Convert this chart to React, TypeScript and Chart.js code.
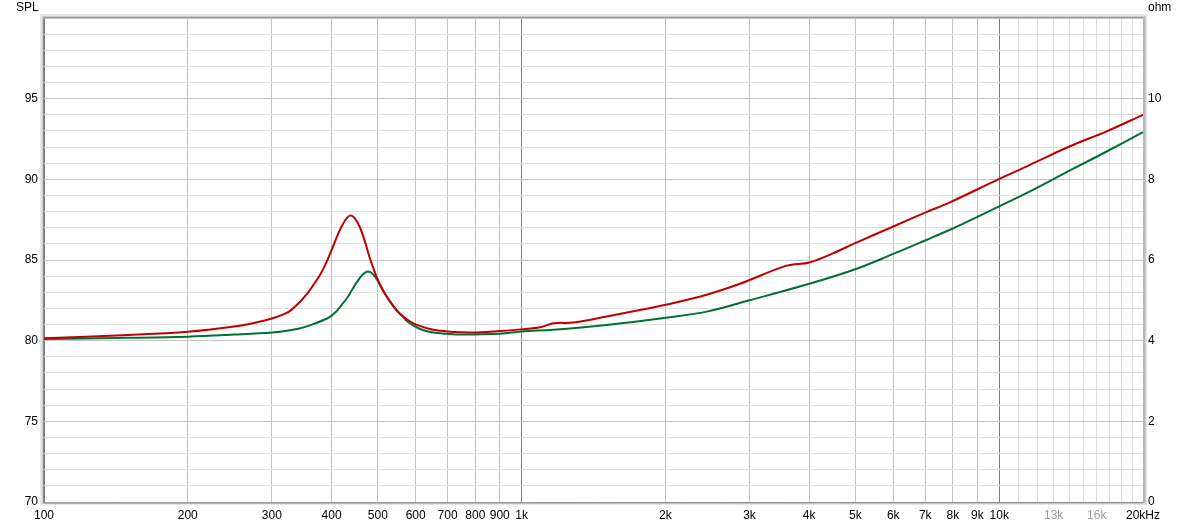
import { useEffect, useRef } from "react";
import { Chart, registerables } from "chart.js";
Chart.register(...registerables);

// Impedance data (frequency in Hz, impedance in ohm)
const redFreq = [100, 150, 200, 250, 275, 300, 320, 330, 344, 357, 366, 378, 388, 397, 408, 417, 427, 437, 447, 459, 470, 481, 490, 497, 510, 522, 540, 557, 580, 603, 653, 700, 743, 791, 901, 1000, 1093, 1165, 1283, 1507, 1769, 2003, 2441, 2866, 3589, 4003, 4495, 4995, 6000, 7015, 7886, 10000, 11600, 14060, 16790, 20000];
const redOhm = [4.06, 4.14, 4.22, 4.35, 4.44, 4.55, 4.67, 4.77, 4.97, 5.19, 5.37, 5.62, 5.88, 6.15, 6.5, 6.76, 6.98, 7.1, 7.04, 6.8, 6.45, 6.05, 5.78, 5.58, 5.3, 5.09, 4.84, 4.66, 4.5, 4.39, 4.27, 4.23, 4.21, 4.2, 4.24, 4.28, 4.33, 4.43, 4.45, 4.6, 4.76, 4.89, 5.14, 5.41, 5.86, 5.94, 6.17, 6.42, 6.83, 7.18, 7.43, 8.01, 8.36, 8.82, 9.19, 9.6];

const greenFreq = [100, 150, 200, 250, 300, 320, 344, 366, 383, 397, 408, 417, 430, 441, 452, 463, 474, 482, 490, 500, 512, 530, 545, 557, 580, 613, 653, 697, 743, 901, 1000, 1165, 1507, 2003, 2441, 2997, 4003, 4995, 6000, 7015, 7886, 10000, 11600, 14060, 16790, 20000];
const greenOhm = [4.04, 4.07, 4.1, 4.15, 4.2, 4.24, 4.31, 4.41, 4.5, 4.59, 4.71, 4.84, 5.04, 5.25, 5.45, 5.62, 5.71, 5.7, 5.63, 5.48, 5.25, 4.98, 4.78, 4.66, 4.45, 4.29, 4.2, 4.17, 4.15, 4.17, 4.23, 4.27, 4.39, 4.57, 4.72, 5.0, 5.41, 5.77, 6.15, 6.49, 6.75, 7.33, 7.7, 8.22, 8.69, 9.17];

const xTicks = [100, 200, 300, 400, 500, 600, 700, 800, 900, 1000, 2000, 3000, 4000, 5000, 6000, 7000, 8000, 9000, 10000, 11000, 12000, 13000, 14000, 15000, 16000, 17000, 18000, 19000, 20000];
const xLabels: Record<number, string> = {
  100: "100", 200: "200", 300: "300", 400: "400", 500: "500", 600: "600", 700: "700", 800: "800", 900: "900",
  1000: "1k", 2000: "2k", 3000: "3k", 4000: "4k", 5000: "5k", 6000: "6k", 7000: "7k", 8000: "8k", 9000: "9k",
  10000: "10k", 13000: "13k", 16000: "16k", 20000: "20kHz",
};
const greyLabels = [13000, 16000];
const majorX = [100, 1000, 10000];

const splMin = 70, splMax = 100, splStep = 1, splLabelStep = 5;
const ohmMin = 0, ohmMax = 12, ohmStep = 2;

const FONT = { family: "'Liberation Sans', Arial, sans-serif", size: 12 };

const framePlugin = {
  id: "frame",
  beforeDraw(chart: any) {
    const { ctx, chartArea: a } = chart;
    ctx.save();
    ctx.fillStyle = "#ffffff";
    ctx.fillRect(0, 0, chart.width, chart.height);
    ctx.fillStyle = "#e6e6e6";
    ctx.fillRect(a.left - 4, a.top - 4, a.right - a.left + 8, a.bottom - a.top + 7);
    ctx.fillStyle = "#cdcdcd";
    ctx.fillRect(a.left - 2, a.top - 2, a.right - a.left + 5, a.bottom - a.top + 4);
    ctx.fillStyle = "#ffffff";
    ctx.fillRect(a.left, a.top, a.right - a.left, a.bottom - a.top);
    ctx.restore();
  },
  afterDraw(chart: any) {
    const { ctx, chartArea: a } = chart;
    ctx.save();
    ctx.lineWidth = 1;
    ctx.strokeStyle = "#8a8a8a";
    ctx.beginPath();
    ctx.moveTo(a.left - 0.5, a.top);
    ctx.lineTo(a.left - 0.5, a.bottom + 1);
    ctx.lineTo(a.right + 1, a.bottom + 0.5);
    ctx.stroke();
    ctx.strokeStyle = "#9a9a9a";
    ctx.beginPath();
    ctx.moveTo(a.left, a.top - 0.5);
    ctx.lineTo(a.right + 0.5, a.top - 0.5);
    ctx.stroke();
    ctx.strokeStyle = "#b8b8b8";
    ctx.lineWidth = 2;
    ctx.beginPath();
    ctx.moveTo(a.right + 1, a.top - 1);
    ctx.lineTo(a.right + 1, a.bottom + 1);
    ctx.stroke();
    ctx.fillStyle = "#000";
    ctx.font = "12px 'Liberation Sans', Arial, sans-serif";
    ctx.textBaseline = "middle";
    ctx.textAlign = "left";
    ctx.fillText("SPL", 16, 8);
    ctx.fillText("ohm", a.right + 5, 8);
    ctx.restore();
  },
};

export default function App() {
  const ref = useRef<HTMLCanvasElement>(null);
  useEffect(() => {
    if (!ref.current) return;
    const chart = new Chart(ref.current, {
      type: "line",
      data: {
        datasets: [
          {
            label: "Impedance 1",
            data: redFreq.map((f, i) => ({ x: f, y: redOhm[i] })),
            borderColor: "#c00000",
            borderWidth: 2,
            pointRadius: 0,
            tension: 0.35,
            yAxisID: "y1",
          },
          {
            label: "Impedance 2",
            data: greenFreq.map((f, i) => ({ x: f, y: greenOhm[i] })),
            borderColor: "#006f36",
            borderWidth: 2,
            pointRadius: 0,
            tension: 0.35,
            yAxisID: "y1",
          },
        ],
      },
      options: {
        animation: false,
        responsive: false,
        devicePixelRatio: 1,
        layout: { padding: { top: 18, left: 0, right: 0, bottom: 0 } },
        plugins: { legend: { display: false }, tooltip: { enabled: false } },
        scales: {
          x: {
            type: "logarithmic",
            min: 100,
            max: 20000,
            afterBuildTicks: (s: any) => {
              s.ticks = xTicks.map((v) => ({ value: v }));
            },
            afterFit: (s: any) => {
              s.height = 24;
            },
            ticks: {
              autoSkip: false,
              maxRotation: 0,
              padding: 6,
              font: FONT,
              color: (c: any) => (greyLabels.includes(c.tick?.value) ? "#a0a0a0" : "#000000"),
              callback: (v: any) => xLabels[Number(v)] ?? "",
            },
            grid: {
              drawTicks: false,
              color: (c: any) => {
                const v = c.tick?.value;
                if (majorX.includes(v)) return "#7c7c7c";
                if (v > 10000) return "#dcdcdc";
                return "#c4c4c4";
              },
            },
            border: { display: false },
          },
          y: {
            type: "linear",
            position: "left",
            min: splMin,
            max: splMax,
            afterFit: (s: any) => {
              s.width = 44;
            },
            ticks: {
              stepSize: splStep,
              autoSkip: false,
              padding: 6,
              font: FONT,
              color: "#000",
              callback: (v: any) => (Number(v) % splLabelStep === 0 && Number(v) < splMax ? String(v) : ""),
            },
            grid: {
              drawTicks: false,
              color: (c: any) => (c.tick?.value % splLabelStep === 0 ? "#c4c4c4" : "#e0e0e0"),
            },
            border: { display: false },
          },
          y1: {
            type: "linear",
            position: "right",
            min: ohmMin,
            max: ohmMax,
            afterFit: (s: any) => {
              s.width = 57;
            },
            ticks: {
              stepSize: ohmStep,
              autoSkip: false,
              padding: 5,
              font: FONT,
              color: "#000",
              callback: (v: any) => (Number(v) < ohmMax ? String(v) : ""),
            },
            grid: { display: false, drawTicks: false },
            border: { display: false },
          },
        },
      },
      plugins: [framePlugin],
    } as any);
    return () => chart.destroy();
  }, []);
  return (
    <div style={{ position: "absolute", left: 0, top: 0, width: 1200, height: 526, background: "#fff" }}>
      <canvas ref={ref} width={1200} height={526} style={{ display: "block" }} />
    </div>
  );
}
